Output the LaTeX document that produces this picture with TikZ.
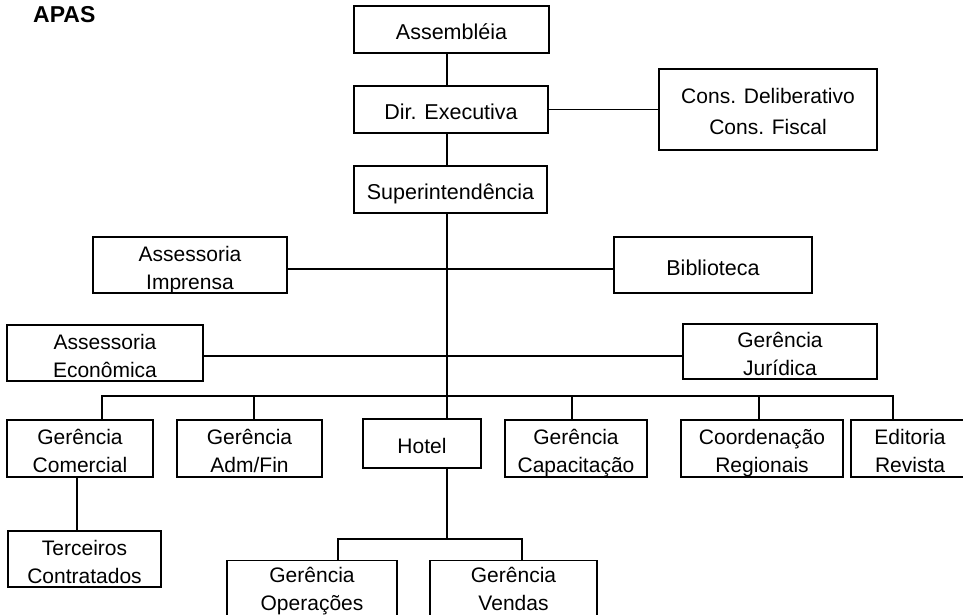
\documentclass[tikz,border=0pt]{standalone}
\usepackage{fontspec}
\setmainfont{Liberation Sans}
% text lines with fixed strut heights so every box places its text the same way
\newcommand\oneline[1]{\rule{0pt}{22pt}\smash{#1}\rule[-2pt]{0pt}{2pt}}
\newcommand\twolines[3][2pt]{\rule{0pt}{22pt}\smash{#2}\\\smash{#3}\rule[-#1]{0pt}{#1}}
\tikzset{
  orgbox/.style={draw, line width=1.8pt, inner sep=0pt, align=center,
    font=\fontsize{21}{28}\selectfont},
  topbox/.style={orgbox, font=\fontsize{21.5}{28}\selectfont},
  link/.style={line width=1.8pt},
}
\begin{document}
\begin{tikzpicture}[x=1pt,y=-1pt]
\useasboundingbox (0,0) rectangle (963,615);
\clip (0,0) rectangle (963,615);
\fill[white] (0,0) rectangle (963,615);

% title
\node[anchor=base west, inner sep=0pt, font=\bfseries\fontsize{23}{28}\selectfont] (apas) at (33,23) {APAS};

% main column
\node[topbox, minimum width=195pt, minimum height=47pt] (asm) at (451.5,29.5) {\oneline{Assembléia}};
\node[topbox, minimum width=194pt, minimum height=47pt] (dir) at (451,109.5) {\oneline{Dir. Executiva}};
\node[topbox, minimum width=193pt, minimum height=47pt] (sup) at (450.5,189.5) {\oneline{Superintendência}};
\node[orgbox, minimum width=218pt, minimum height=81pt, font=\fontsize{21}{31}\selectfont] (cons) at (768,109.5) {\twolines{Cons. Deliberativo}{Cons. Fiscal}};

% staff units
\node[orgbox, minimum width=194pt, minimum height=56pt] (imp) at (190,265) {\twolines{Assessoria}{Imprensa}};
\node[topbox, minimum width=198pt, minimum height=56pt] (bib) at (713,265) {\oneline{Biblioteca}};
\node[orgbox, minimum width=196pt, minimum height=56pt] (eco) at (105,353) {\twolines{Assessoria}{Econômica}};
\node[orgbox, minimum width=194pt, minimum height=55pt] (jur) at (780,351.5) {\twolines{Gerência}{Jurídica}};

% line units
\node[orgbox, minimum width=146pt, minimum height=57pt] (com) at (80,448.5) {\twolines{Gerência}{Comercial}};
\node[orgbox, minimum width=145pt, minimum height=57pt] (adm) at (249.5,448.5) {\twolines{Gerência}{Adm/Fin}};
\node[orgbox, minimum width=118pt, minimum height=49pt] (hotel) at (422,443.5) {\oneline{Hotel}};
\node[orgbox, minimum width=142pt, minimum height=57pt] (cap) at (576,448.5) {\twolines{Gerência}{Capacitação}};
\node[orgbox, minimum width=162pt, minimum height=57pt] (coo) at (762,448.5) {\twolines{Coordenação}{Regionais}};
\node[orgbox, minimum width=118pt, minimum height=57pt] (edi) at (910,448.5) {\twolines{Editoria}{Revista}};

% lower level (the two hotel boxes run past the bottom edge)
\node[orgbox, minimum width=153pt, minimum height=56pt] (ter) at (84.5,559) {\twolines{Terceiros}{Contratados}};
\node[orgbox, minimum width=170pt, minimum height=57pt] (ope) at (312,590.5) {\twolines[10pt]{Gerência}{Operações}};
\node[orgbox, minimum width=167pt, minimum height=57pt] (ven) at (513.5,590.5) {\twolines[10pt]{Gerência}{Vendas}};

% trunk line and junctions
\coordinate (tx) at (447,0);
\coordinate (busy) at (0,396);
\coordinate (hb) at (447,539);

\draw[link] (asm.south -| tx) -- (dir.north -| tx);
\draw[link] (dir.south -| tx) -- (sup.north -| tx);
\draw[link] (dir.east) -- (cons.west);
\draw[link] (sup.south -| tx) -- (hotel.north -| tx);
\draw[link] ([yshift=-4pt]imp.east) -- ([yshift=-4pt]bib.west);
\draw[link] ([yshift=-3pt]eco.east) -- ([yshift=-4.5pt]jur.west);

% bus to the line units
\draw[link] ([xshift=22pt]com.north) -- ([xshift=22pt]com.north |- busy)
  -- ([xshift=-17pt]edi.north |- busy) -- ([xshift=-17pt]edi.north);
\draw[link] ([xshift=4.5pt]adm.north) -- ([xshift=4.5pt]adm.north |- busy);
\draw[link] ([xshift=-4pt]cap.north) -- ([xshift=-4pt]cap.north |- busy);
\draw[link] ([xshift=-3pt]coo.north) -- ([xshift=-3pt]coo.north |- busy);

% sub-units
\draw[link] ([xshift=-3pt]com.south) -- ([xshift=-3pt]com.south |- ter.north);
\draw[link] (hotel.south -| tx) -- (hb);
\draw[link] ([xshift=26pt]ope.north) |- (hb) -| ([xshift=8.5pt]ven.north);
\end{tikzpicture}
\end{document}
